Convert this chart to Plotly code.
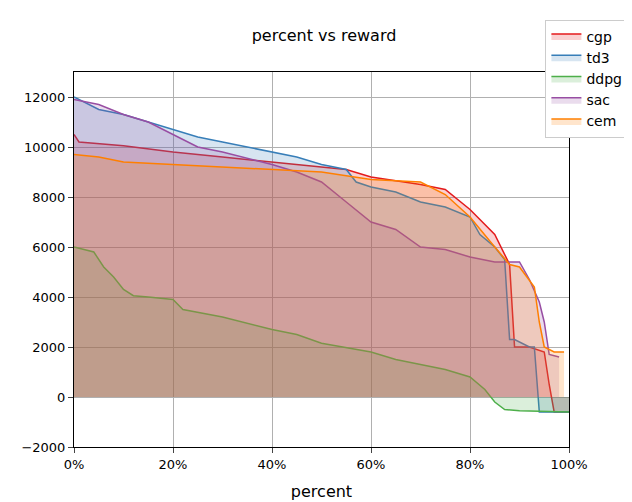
import plotly.graph_objects as go

cgp_x = [0, 1, 10, 20, 30, 40, 50, 55, 60, 70, 75, 80, 85, 88, 89, 92, 95, 96, 97, 100]
cgp_y = [10500, 10200, 10050, 9800, 9600, 9400, 9200, 9100, 8800, 8500, 8300, 7500, 6500, 5300, 2000, 2000, 1800, 500, -600, -600]
td3_x = [0, 5, 10, 15, 20, 25, 30, 40, 45, 50, 55, 57, 60, 65, 70, 75, 80, 82, 85, 87, 88, 89, 92, 93, 94, 100]
td3_y = [12000, 11500, 11300, 11000, 10700, 10400, 10200, 9800, 9600, 9300, 9100, 8600, 8400, 8200, 7800, 7600, 7200, 6500, 6000, 5500, 2300, 2300, 2000, 2000, -600, -600]
ddpg_x = [0, 4, 6, 8, 10, 12, 15, 20, 22, 30, 40, 45, 50, 60, 65, 70, 75, 80, 83, 85, 87, 90, 100]
ddpg_y = [6000, 5800, 5200, 4800, 4300, 4050, 4000, 3900, 3500, 3200, 2700, 2500, 2150, 1800, 1500, 1300, 1100, 800, 300, -200, -500, -550, -600]
sac_x = [0, 5, 10, 15, 20, 25, 30, 40, 45, 50, 55, 60, 65, 70, 75, 80, 85, 90, 92, 94, 95, 96, 98]
sac_y = [11900, 11700, 11300, 11000, 10500, 10000, 9800, 9300, 9000, 8600, 7800, 7000, 6700, 6000, 5900, 5600, 5400, 5400, 4700, 3800, 3000, 1700, 1600]
cem_x = [0, 5, 10, 20, 30, 40, 50, 60, 70, 75, 80, 85, 88, 90, 93, 94, 95, 97, 99]
cem_y = [9700, 9600, 9400, 9300, 9200, 9100, 9000, 8700, 8600, 8100, 7200, 6000, 5300, 5200, 4400, 3000, 2000, 1800, 1800]

series = [
    ("cgp", cgp_x, cgp_y, (228, 26, 28)),
    ("td3", td3_x, td3_y, (55, 126, 184)),
    ("ddpg", ddpg_x, ddpg_y, (77, 175, 74)),
    ("sac", sac_x, sac_y, (152, 78, 163)),
    ("cem", cem_x, cem_y, (255, 127, 0)),
]

fig = go.Figure()
for name, xs, ys, c in series:
    fig.add_trace(go.Scatter(x=xs, y=ys, name=name, mode="lines",
                             line=dict(color="rgb(%d,%d,%d)" % c, width=1.5),
                             fill="tozeroy", fillcolor="rgba(%d,%d,%d,0.2)" % c))

fig.update_layout(
    width=632, height=502, plot_bgcolor="white", paper_bgcolor="white",
    margin=dict(l=66, r=62, t=52, b=56),
    font=dict(family="DejaVu Sans", size=13, color="black"),
    title=dict(text="percent vs reward", x=0.5, xanchor="center", y=0.945, yanchor="middle",
               font=dict(size=16)),
    legend=dict(x=1.12, y=1.14, xanchor="right", yanchor="top", bordercolor="#ccc", borderwidth=1,
                bgcolor="white", font=dict(size=14)),
)
fig.update_xaxes(range=[0, 100], tickvals=[0, 20, 40, 60, 80, 100],
                 ticktext=["0%", "20%", "40%", "60%", "80%", "100%"],
                 title_text="percent", showgrid=True, gridcolor="#b0b0b0",
                 showline=True, linecolor="black", mirror=True, ticks="outside", zeroline=False)
fig.update_yaxes(range=[-2000, 13000], dtick=2000, tickformat="d", showgrid=True, gridcolor="#b0b0b0",
                 showline=True, linecolor="black", mirror=True, ticks="outside", zeroline=False)

fig.write_html("out.html")
